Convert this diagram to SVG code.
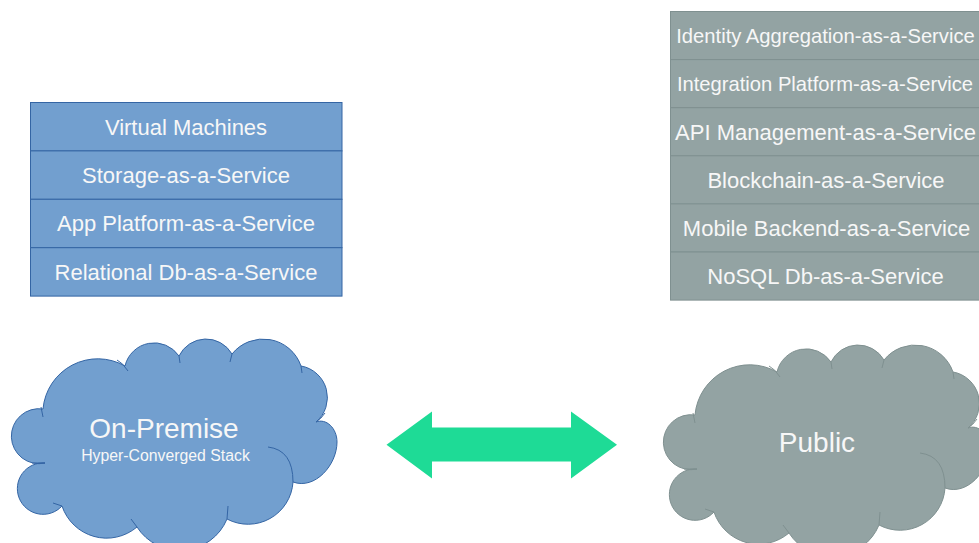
<svg xmlns="http://www.w3.org/2000/svg" xmlns:xlink="http://www.w3.org/1999/xlink" width="979" height="543" viewBox="0 0 979 543">
  <style>
    .lbl { font-family: "Liberation Sans", Arial, sans-serif; fill: #f7f7f7; text-anchor: middle; }
    .row { font-size: 22px; }
    .row-fit { font-size: 20.2px; }
    .blue { fill: #729fcf; stroke: #3465a4; stroke-width: 1; }
    .grey { fill: #93a3a3; stroke: #7f9090; stroke-width: 1; }
    .blue-line { fill: none; stroke: #3465a4; stroke-width: 1; }
    .grey-line { fill: none; stroke: #7f9090; stroke-width: 1; }
  </style>
  <defs>
    <!-- cloud outline built from bumps, clockwise from the upper left -->
    <path id="cloud-shape" d="M 43 409 A 55 55 0 0 1 125 366 A 30 30 0 0 1 179 356 A 30 30 0 0 1 232 354 A 40 40 0 0 1 301 366 A 32 32 0 0 1 316 422 C 326 418 337 428 337 442 C 337 465 315 490 293 482 A 45 45 0 0 1 227 519 A 51 51 0 0 1 137 527 A 47 47 0 0 1 62 506 A 25.7 25.7 0 1 1 45 463 A 27.5 27.5 0 1 1 43 409 Z"/>
    <!-- short inner creases where the bumps meet -->
    <path id="cloud-creases" d="M 41 407 L 43 417 M 117 360 Q 123 363 128 371 M 179 356 L 180 363 M 232 354 L 230 362 M 301 366 L 302 373 M 316 422 Q 321 419 325 413 M 268 447 Q 293 450 293 482 M 228 506 L 227 519 M 131 519 L 137 527 M 53 503 L 62 506 M 32 463 L 45 463"/>
  </defs>

  <!-- on-premise service stack -->
  <g id="stack-onprem">
    <rect class="blue" x="30.5" y="102.5" width="311.5" height="48.4"/>
    <rect class="blue" x="30.5" y="150.9" width="311.5" height="48.4"/>
    <rect class="blue" x="30.5" y="199.3" width="311.5" height="48.4"/>
    <rect class="blue" x="30.5" y="247.7" width="311.5" height="48.4"/>
    <text class="lbl row" x="186" y="134.5">Virtual Machines</text>
    <text class="lbl row" x="186" y="182.9">Storage-as-a-Service</text>
    <text class="lbl row" x="186" y="231.3">App Platform-as-a-Service</text>
    <text class="lbl row" x="186" y="279.7">Relational Db-as-a-Service</text>
  </g>

  <!-- public cloud service stack -->
  <g id="stack-public">
    <rect class="grey" x="670.5" y="11.5" width="312" height="48.1"/>
    <rect class="grey" x="670.5" y="59.6" width="312" height="48.1"/>
    <rect class="grey" x="670.5" y="107.7" width="312" height="48.1"/>
    <rect class="grey" x="670.5" y="155.8" width="312" height="48.1"/>
    <rect class="grey" x="670.5" y="203.9" width="312" height="48.1"/>
    <rect class="grey" x="670.5" y="252" width="312" height="48.1"/>
    <text class="lbl row-fit" x="825.5" y="43">Identity Aggregation-as-a-Service</text>
    <text class="lbl row-fit" x="825" y="91">Integration Platform-as-a-Service</text>
    <text class="lbl row" x="825.5" y="139.7">API Management-as-a-Service</text>
    <text class="lbl row" x="826" y="187.8">Blockchain-as-a-Service</text>
    <text class="lbl row" x="826.5" y="235.9">Mobile Backend-as-a-Service</text>
    <text class="lbl row" x="825.5" y="284">NoSQL Db-as-a-Service</text>
  </g>

  <!-- on-premise cloud -->
  <g id="cloud-onprem">
    <use xlink:href="#cloud-shape" class="blue"/>
    <use xlink:href="#cloud-creases" class="blue-line"/>
    <text class="lbl" x="164" y="438" font-size="28">On-Premise</text>
    <text class="lbl" x="165.5" y="461" font-size="15.8">Hyper-Converged Stack</text>
  </g>

  <!-- public cloud -->
  <g id="cloud-public">
    <g transform="translate(652 6)">
      <use xlink:href="#cloud-shape" class="grey"/>
      <use xlink:href="#cloud-creases" class="grey-line"/>
    </g>
    <text class="lbl" x="817" y="452" font-size="28">Public</text>
  </g>

  <!-- link between the two clouds -->
  <g id="connectors">
    <polygon id="link-onprem-public" fill="#1edb96" points="386.5,444.8 432,411.5 432,427.5 571,427.5 571,411.5 617,444.8 571,478.5 571,461.5 432,461.5 432,478.5"/>
  </g>
</svg>
